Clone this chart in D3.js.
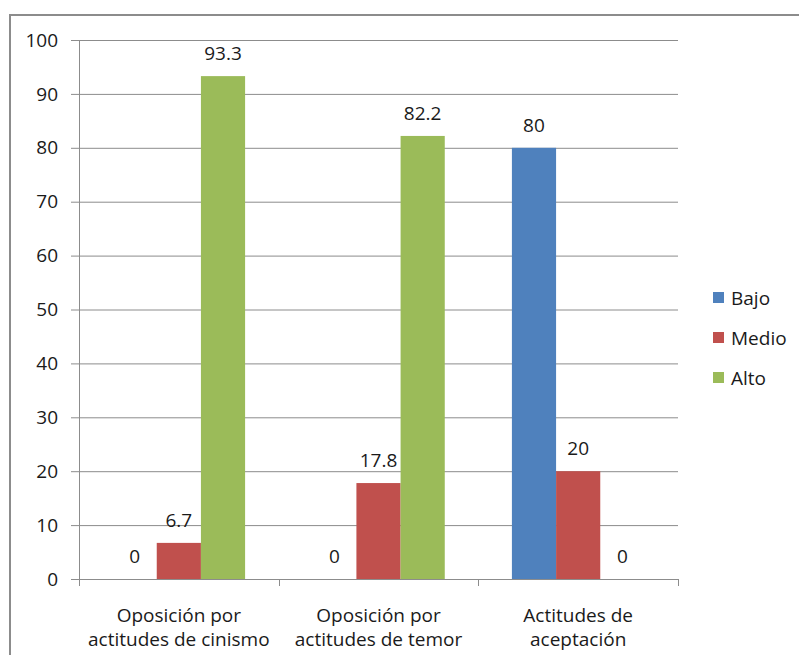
<!DOCTYPE html>
<html>
<head>
<meta charset="utf-8">
<script src="https://cdn.jsdelivr.net/npm/d3@7"></script>
<style>
  html, body { margin: 0; padding: 0; background: #fff; }
  svg { display: block; }
  text { font-family: "Open Sans", "Liberation Sans", sans-serif; fill: #1a1a1a; }
</style>
</head>
<body>
<svg id="chart" width="799" height="655"></svg>
<script>
const categories = [
  ["Oposición por", "actitudes de cinismo"],
  ["Oposición por", "actitudes de temor"],
  ["Actitudes de", "aceptación"]
];
const seriesNames = ["Bajo", "Medio", "Alto"];
const bajo  = [0, 0, 80];
const medio = [6.7, 17.8, 20];
const alto  = [93.3, 82.2, 0];
const yTicks = [0, 10, 20, 30, 40, 50, 60, 70, 80, 90, 100];
const colors = ["#4F81BD", "#C0504D", "#9BBB59"];

const seriesValues = [bajo, medio, alto];
const svg = d3.select("#chart");
const FS = 19;

// outer border
svg.append("rect")
  .attr("x", 10).attr("y", 15)
  .attr("width", 800).attr("height", 660)
  .attr("fill", "none").attr("stroke", "#8c8c8c").attr("stroke-width", 2);

const pL = 79, pR = 678, pT = 40, pB = 579;

const x0 = d3.scaleBand().domain(d3.range(categories.length)).range([pL, pR]).paddingInner(0).paddingOuter(0);
const x1 = d3.scaleBand().domain(d3.range(seriesNames.length)).range([0, x0.bandwidth()]).paddingOuter(0.76).paddingInner(0);
const y = d3.scaleLinear().domain([0, 100]).range([pB, pT]);

// gridlines
svg.append("g").selectAll("line").data(yTicks).join("line")
  .attr("x1", pL - 8).attr("x2", pR)
  .attr("y1", d => y(d) + 0.5).attr("y2", d => y(d) + 0.5)
  .attr("stroke", "#8c8c8c").attr("stroke-width", 1);

// y axis line
svg.append("line").attr("x1", pL + 0.5).attr("x2", pL + 0.5)
  .attr("y1", pT).attr("y2", pB + 0.5)
  .attr("stroke", "#8c8c8c");

// y tick labels
svg.append("g").selectAll("text").data(yTicks).join("text")
  .attr("x", 58).attr("y", d => y(d))
  .attr("dy", "0.35em")
  .attr("text-anchor", "end")
  .attr("font-size", FS)
  .text(d => d);

// x category ticks
const catEdges = d3.range(categories.length + 1).map(i => i < categories.length ? x0(i) : x0(i - 1) + x0.bandwidth());
svg.append("g").selectAll("line").data(catEdges).join("line")
  .attr("x1", d => Math.round(d) + 0.5).attr("x2", d => Math.round(d) + 0.5)
  .attr("y1", pB).attr("y2", pB + 7)
  .attr("stroke", "#8c8c8c");

// bars
const groups = svg.append("g").selectAll("g").data(categories).join("g")
  .attr("transform", (d, i) => `translate(${x0(i)},0)`);

groups.selectAll("rect").data((d, i) => seriesValues.map((s, j) => ({ j, v: s[i] }))).join("rect")
  .attr("x", d => x1(d.j))
  .attr("width", x1.bandwidth())
  .attr("y", d => y(d.v))
  .attr("height", d => y(0) - y(d.v))
  .attr("fill", d => colors[d.j]);

groups.selectAll("text.val").data((d, i) => seriesValues.map((s, j) => ({ j, v: s[i] }))).join("text")
  .attr("class", "val")
  .attr("x", d => x1(d.j) + x1.bandwidth() / 2)
  .attr("y", d => y(d.v) - 16)
  .attr("text-anchor", "middle")
  .attr("font-size", FS)
  .text(d => d.v);

// category labels
const catLabels = svg.append("g").selectAll("text").data(categories).join("text")
  .attr("text-anchor", "middle")
  .attr("font-size", FS)
  .attr("transform", (d, i) => `translate(${x0(i) + x0.bandwidth() / 2},0)`);
catLabels.selectAll("tspan").data(d => d).join("tspan")
  .attr("x", 0)
  .attr("y", (d, k) => 622 + k * 24)
  .text(d => d);

// legend
const legend = svg.append("g").selectAll("g").data(seriesNames).join("g")
  .attr("transform", (d, i) => `translate(713, ${298 + i * 40})`);
legend.append("rect").attr("x", 0).attr("y", -6).attr("width", 11).attr("height", 11)
  .attr("fill", (d, i) => colors[i]);
legend.append("text").attr("x", 18).attr("y", 0).attr("dy", "0.35em")
  .attr("font-size", FS).text(d => d);
</script>
</body>
</html>
